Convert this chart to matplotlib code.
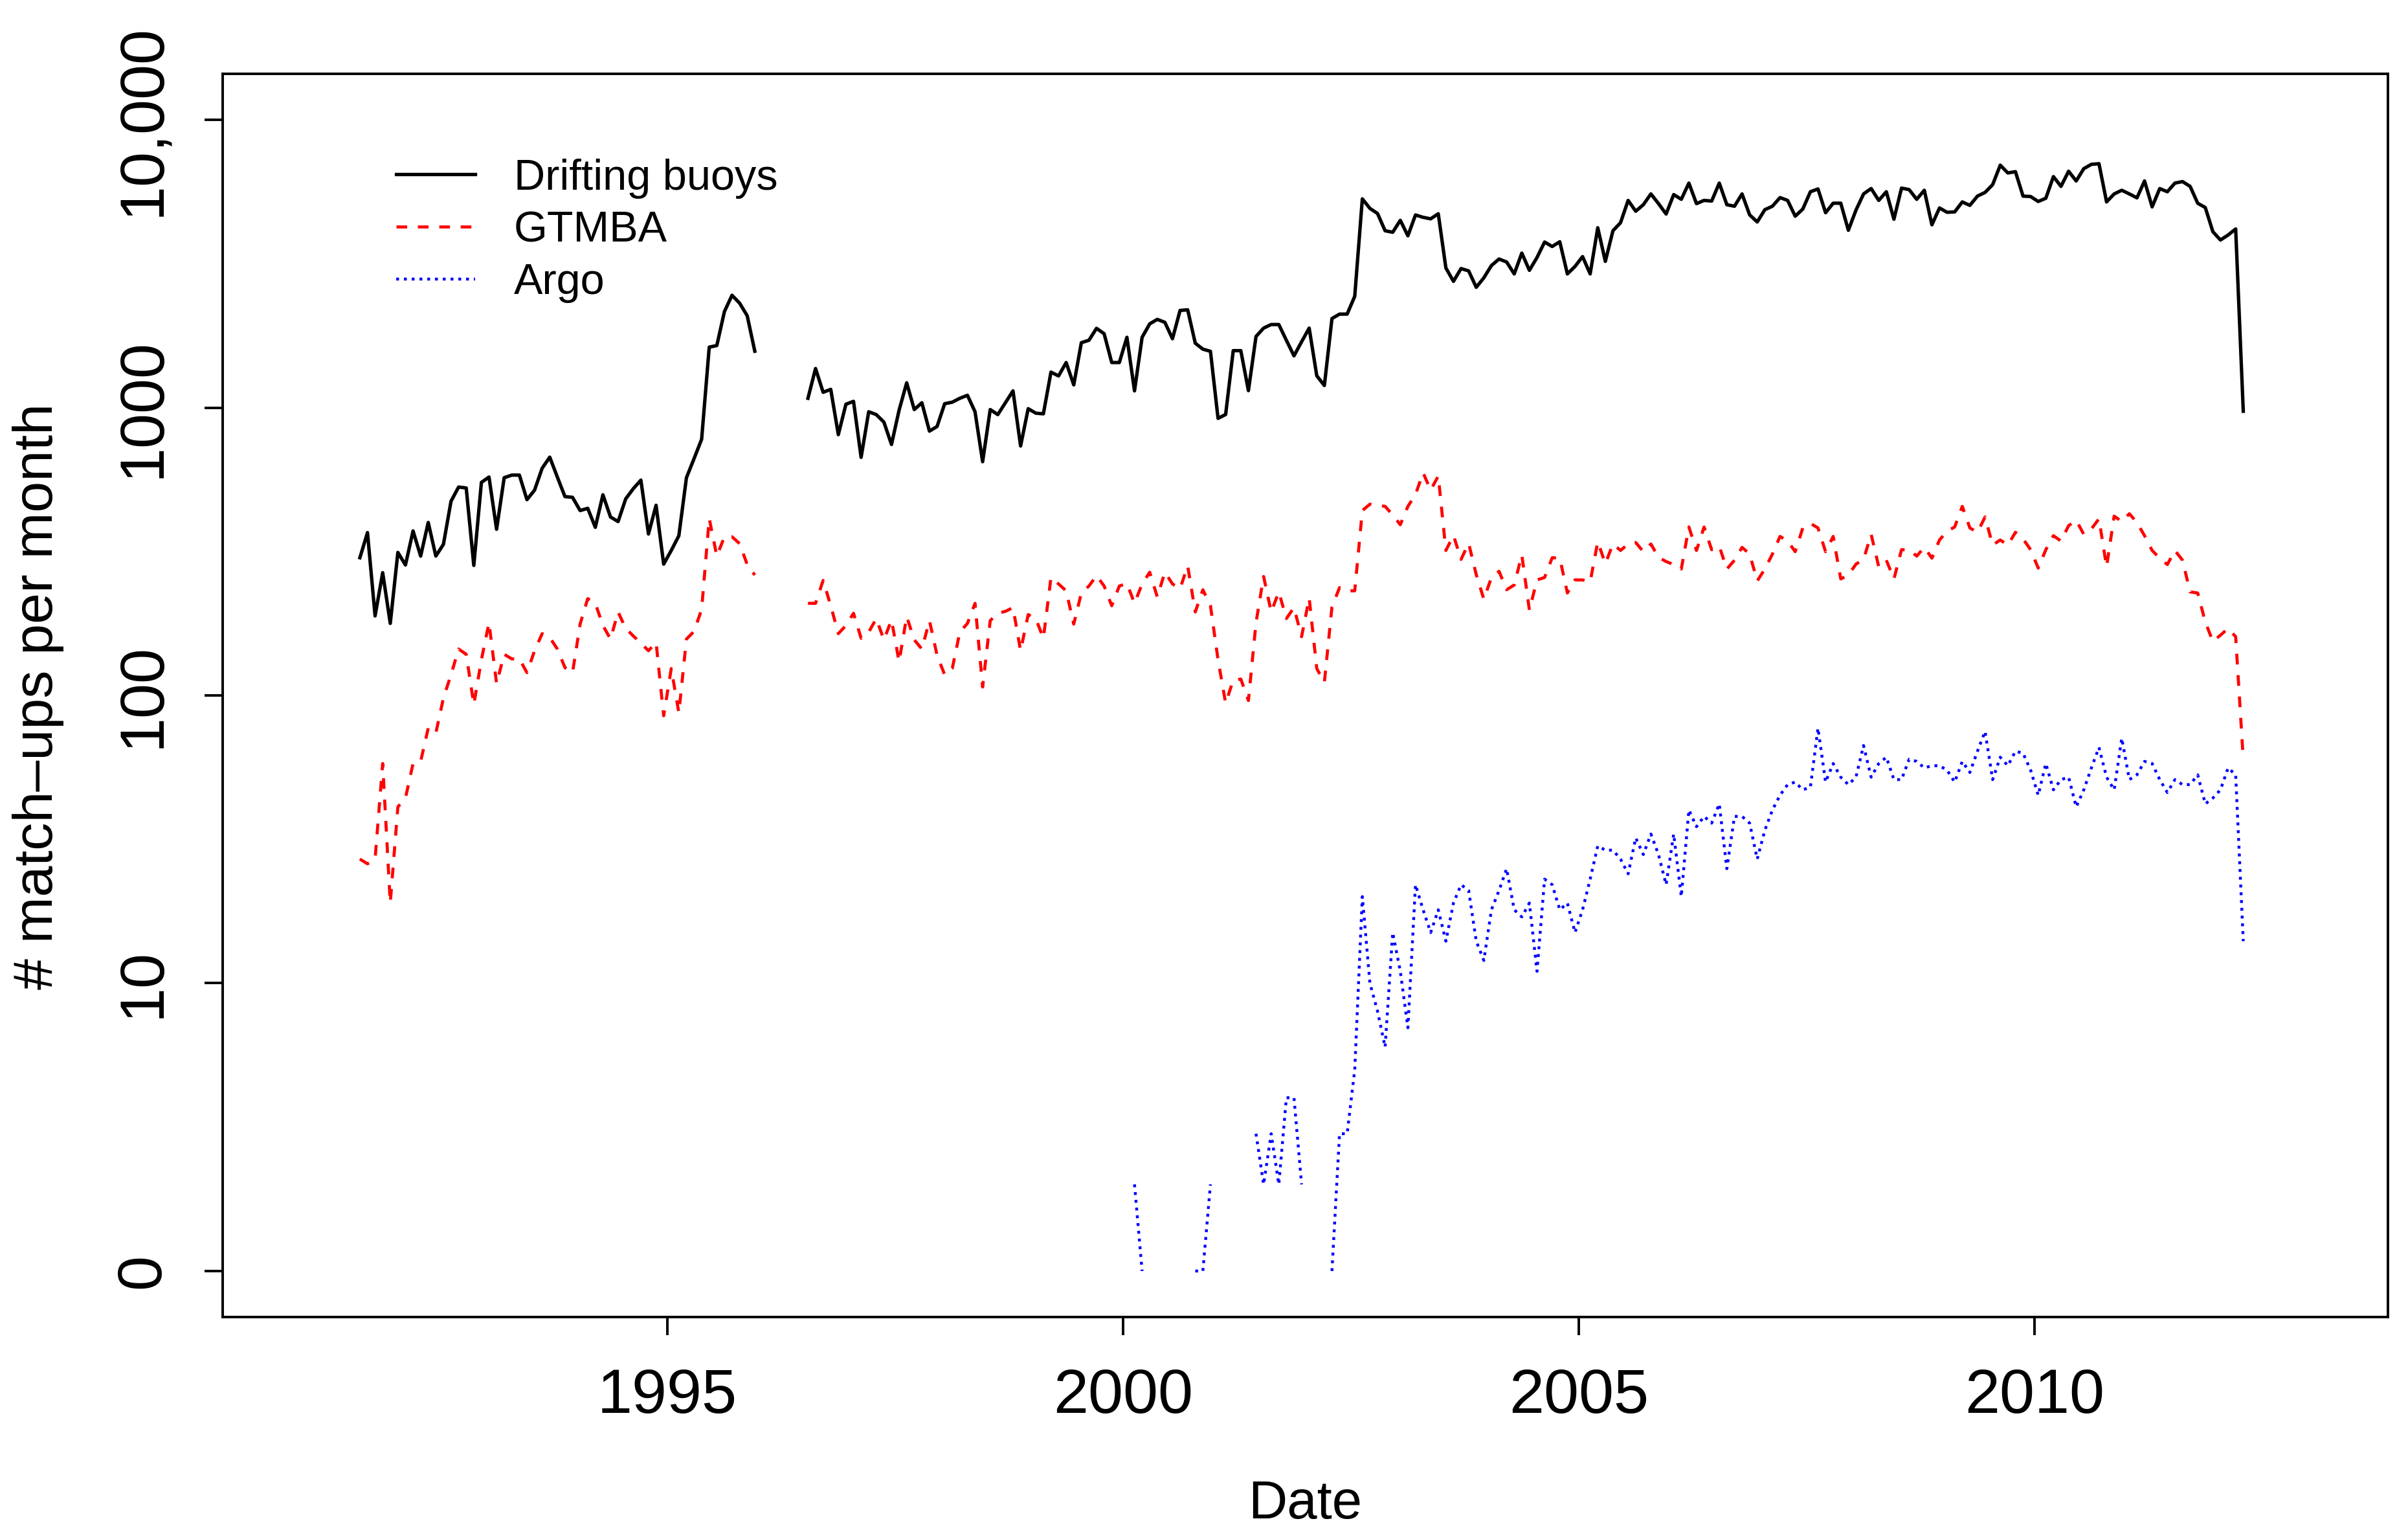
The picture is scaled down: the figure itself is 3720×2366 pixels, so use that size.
import numpy as np
import pandas as pd
import matplotlib
matplotlib.use('Agg')
import matplotlib.pyplot as plt

nan = np.nan

# monthly match-ups, Aug 1991 .. Apr 2012
months = pd.date_range('1991-08-01', '2012-04-01', freq='MS')

drifting = [
    # Aug 1991 - Dec 1995
    301, 368, 189, 267, 178, 314, 284, 373, 305, 399, 305, 335, 473, 530, 526, 283,
    550, 574, 378, 571, 583, 583, 479, 517, 616, 673, 574, 491, 488, 439, 447, 384,
    498, 417, 402, 482, 523, 560, 364, 458, 286, 319, 359, 571, 665, 777, 1623, 1644,
    2157, 2458, 2308, 2087, 1571,
    # Jan - Jun 1996 (no data)
    nan, nan, nan, nan, nan, nan,
    # Jul 1996 - Nov 2000
    1078, 1368, 1131, 1158, 806, 1028, 1052, 672, 968, 946, 891, 745, 980, 1220, 985,
    1040, 829, 860, 1032, 1045, 1078, 1104, 968, 649, 985, 946, 1040, 1144, 736, 992,
    957, 952, 1329, 1289, 1435, 1200, 1682, 1715, 1887, 1807, 1435, 1435, 1756, 1144,
    1756, 1955, 2027, 1979, 1736, 2177, 2188, 1675, 1597,
    # Dec 2000 - Jun 2005
    1570, 918, 947, 1578, 1578, 1146, 1768, 1890, 1945, 1945, 1714, 1514, 1694,
    1890, 1291, 1194, 2040, 2114, 2114, 2438, 5316, 4924, 4729, 4119, 4070,
    4477, 3956, 4674, 4586, 4531, 4719, 3059, 2748, 3044, 2987, 2620, 2827,
    3118, 3285, 3208, 2916, 3445, 3001, 3325, 3763, 3631, 3772, 2916, 3095,
    3349, 2916, 4219, 3224, 4119, 4393,
    # Jul 2005 - Feb 2010
    5251, 4815, 5073, 5530, 5117, 4709,
    5502, 5297, 6031, 5117, 5251, 5224, 6031, 5073, 5012, 5530, 4677, 4418,
    4874, 5012, 5370, 5251, 4628, 4899, 5627, 5754, 4758, 5134, 5134, 4135,
    4857, 5530, 5773, 5251, 5627, 4517, 5794, 5724, 5297, 5694, 4319, 4942,
    4774, 4790, 5187, 5046, 5435, 5597, 5957, 6961, 6540, 6608, 5435, 5416,
    5205, 5342,
    # Mar 2010 - Apr 2012
    6351, 5875, 6631, 6135, 6769, 7007, 7044, 5188, 5530, 5694,
    5530, 5359, 6135, 4986, 5773, 5627, 6031, 6104, 5875, 5134, 4959, 4086,
    3825, 3981, 4178, 972,
]

gtmba = [
    # Aug 1991 - Dec 1995
    27, 26, 27, 58, 19, 41, 44, 58, 59, 77, 74, 98, 118, 145, 139, 93, 133, 179, 110,
    139, 134, 134, 120, 143, 164, 159, 145, 125, 120, 177, 217, 209, 175, 157, 195,
    171, 161, 152, 143, 153, 85, 124, 87, 157, 167, 199, 412, 305, 356, 356, 337, 285,
    262,
    nan, nan, nan, nan, nan, nan,
    # Jul 1996 - Nov 2000
    209, 209, 251, 205, 164, 175, 193, 158, 166, 185, 156, 183, 131, 188, 156, 145,
    182, 138, 118, 124, 166, 178, 209, 107, 182, 193, 196, 202, 143, 191, 185, 158,
    257, 244, 231, 177, 227, 240, 261, 240, 205, 240, 245, 209, 244, 268, 220, 268,
    244, 235, 282, 195, 233,
    # Dec 2000 - Jul 2005
    205, 133, 94, 113, 114, 96, 179, 259, 195, 229, 185, 202, 160,
    218, 124, 111, 203, 237, 231, 231, 439, 462, 458, 454, 424,
    392, 454, 499, 594, 517, 579, 319, 360, 297, 338, 263, 216,
    257, 270, 233, 242, 308, 198, 252, 257, 301, 300, 227, 252,
    252, 248, 342, 287, 336, 319, 336,
    # Aug 2005 - Mar 2010
    340, 316, 336, 302, 292,
    285, 275, 385, 319, 385, 321, 330, 275, 295, 327, 310, 250,
    275, 310, 357, 344, 316, 382, 396, 382, 316, 357, 254, 262,
    286, 297, 363, 280, 295, 254, 321, 321, 305, 327, 300, 347,
    372, 385, 454, 382, 369, 417, 333, 347, 333, 369, 350, 321,
    277, 321, 359,
    # Apr 2010 - Apr 2012
    344, 389, 406, 363, 379, 411, 280, 420, 402,
    428, 399, 359, 319, 300, 285, 319, 295, 229, 227, 180, 154,
    162, 171, 160, 60,
]

argo_none = [nan] * 102          # Aug 1991 - Jan 2000
argo_2000 = [2, 1, nan, nan, nan, nan, nan, nan, 1, 1, 2]
argo_2001 = [nan, nan, nan, nan, nan, 3, 2, 3, 2, 4, 4, 2]
argo_2002 = [nan, nan, nan, 1, 3, 3, 5, 20, 10, 8, 6, 15]
argo_2003_05 = [
    11, 7, 22, 18, 15, 18, 14, 19, 22, 21, 14, 12,
    18, 21, 25, 18, 17, 19, 11, 23, 22, 18, 19, 15,
    18, 23, 30, 29, 29, 27, 24, 32, 28, 33, 28, 22,
]
argo_2006_12 = [
    33, 20, 40, 35, 38, 36, 42, 25, 38, 38, 36, 27,
    34, 40, 45, 49, 50, 47, 48, 77, 50, 58, 52, 49,
    52, 67, 52, 58, 61, 51, 51, 60, 59, 56, 57, 57,
    55, 50, 59, 54, 64, 75, 51, 61, 57, 64, 63, 55,
    45, 58, 47, 51, 52, 41, 47, 56, 66, 52, 47, 71,
    51, 53, 59, 58, 51, 46, 51, 49, 49, 53, 42, 44,
    47, 56, 53, 14,
]
argo = argo_none + argo_2000 + argo_2001 + argo_2002 + argo_2003_05 + argo_2006_12

ytick_pos = [0, 1, 2, 3, 4]
ytick_labels = ['0', '10', '100', '1000', '10,000']
xtick_pos = [1995, 2000, 2005, 2010]

plt.rcParams['font.family'] = ['Liberation Sans', 'DejaVu Sans']

t = months.year + (months.month - 0.5) / 12

fig = plt.figure(figsize=(18.6, 11.83), dpi=200)
ax = fig.add_axes([0.0925, 0.1403, 0.8992, 0.8115])

ax.plot(t, np.log10(np.array(drifting, dtype=float)), color='black', lw=1.9,
        label='Drifting buoys')
ax.plot(t, np.log10(np.array(gtmba, dtype=float)), color='red', lw=1.7,
        linestyle=(0, (3.5, 3.5)), label='GTMBA')
ax.plot(t, np.log10(np.array(argo, dtype=float)), color='blue', lw=1.6,
        linestyle=(0, (1, 1.7)), label='Argo')

ax.set_xlim(1990.12, 2013.88)
ax.set_ylim(-0.16, 4.16)
ax.set_xticks(xtick_pos)
ax.set_xticklabels([str(y) for y in xtick_pos])
ax.set_yticks(ytick_pos)
ax.set_yticklabels(ytick_labels, rotation=90, va='center')
ax.tick_params(direction='out', length=10, width=1.4, labelsize=35, pad=18)
for s in ax.spines.values():
    s.set_linewidth(1.4)

fig.text(0.5421, 0.0089, 'Date', ha='center', va='baseline', fontsize=30)
fig.text(0.0159, 0.5456, '# match\u2013ups per month', rotation=90,
         ha='center', va='center', fontsize=31)

ax.legend(loc='upper left', bbox_to_anchor=(0.0801, 0.932), frameon=False,
          fontsize=24, handlelength=1.83, handletextpad=0.9, labelspacing=0.28,
          borderpad=0, borderaxespad=0)

fig.savefig('out.png', dpi=200)
